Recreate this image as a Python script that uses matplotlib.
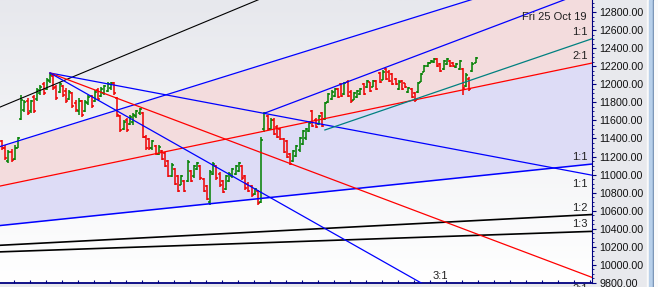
import numpy as np
import matplotlib
matplotlib.use('Agg')
import matplotlib.pyplot as plt
from matplotlib.collections import LineCollection
from matplotlib.colors import LinearSegmentedColormap
from matplotlib.patches import Rectangle
from matplotlib.ticker import MultipleLocator, FormatStrFormatter

plt.rcParams['font.family'] = ['Liberation Sans', 'DejaVu Sans']

# daily OHLC (bar index 0 = first visible bar)
opens = [11370, 11300, 11150, 11250, 11170, 11300, 11620, 11720, 11820, 11700,
         11860, 11840, 11900, 12000, 11950, 12040, 12090, 11970, 11910, 11980,
         11930, 11840, 11900, 11790, 11700, 11810, 11700, 11790, 11870, 11810,
         11940, 11870, 11900, 11930, 11960, 12010, 11850, 11650, 11500, 11600,
         11560, 11580, 11650, 11680, 11680, 11420, 11390, 11290, 11320, 11230,
         11260, 11240, 11150, 10990, 11060, 10980, 10890, 10930, 10930, 11040,
         10980, 11060, 11100, 10950, 10870, 10700, 11010, 11100, 11010, 10930,
         10840, 10930, 10980, 11010, 11040, 11100, 10980, 10900, 10870, 10780,
         10820, 10700, 11500, 11650, 11510, 11610, 11530, 11500, 11390, 11370,
         11230, 11150, 11210, 11270, 11340, 11400, 11480, 11700, 11610, 11560,
         11680, 11620, 11800, 11840, 11870, 11950, 12000, 11890, 12030, 11920,
         11830, 11860, 11890, 12000, 11970, 12020, 11975, 12040, 12120, 12050,
         12170, 12140, 12110, 12060, 11950, 12040, 12010, 11910, 11950, 11900,
         11910, 12030, 12140, 12200, 12240, 12245, 12280, 12220, 12165, 12220,
         12260, 12240, 12190, 12170, 12170, 11980, 12060, 12150, 12240]
highs = [11383, 11330, 11270, 11280, 11330, 11420, 11880, 11830, 11850, 11830,
         11880, 11960, 11990, 12020, 12070, 12125, 12100, 11990, 12020, 11990,
         11960, 11940, 11910, 11830, 11850, 11830, 11830, 11880, 11880, 11940,
         11960, 11970, 11990, 12020, 12020, 12025, 11860, 11660, 11600, 11630,
         11660, 11680, 11715, 11740, 11690, 11440, 11405, 11383, 11330, 11330,
         11270, 11250, 11162, 11128, 11073, 10996, 10996, 10940, 11162, 11051,
         11106, 11140, 11106, 10962, 10885, 11051, 11140, 11106, 11029, 10940,
         10996, 11029, 11073, 11106, 11140, 11106, 10996, 10918, 10885, 10852,
         10830, 11416, 11693, 11660, 11627, 11627, 11549, 11516, 11405, 11383,
         11239, 11272, 11328, 11416, 11494, 11516, 11582, 11715, 11627, 11660,
         11693, 11804, 11903, 11937, 11959, 11959, 12014, 12025, 12047, 11937,
         11914, 11937, 11959, 12014, 12047, 12025, 12047, 12047, 12136, 12158,
         12180, 12158, 12125, 12069, 12047, 12047, 12014, 11970, 11959, 11914,
         12025, 12125, 12213, 12247, 12269, 12291, 12291, 12235, 12269, 12291,
         12269, 12247, 12235, 12269, 12180, 12125, 12080, 12247, 12302]
lows = [11272, 11160, 11130, 11140, 11160, 11290, 11600, 11690, 11660, 11680,
        11680, 11820, 11880, 11880, 11940, 12010, 11940, 11830, 11900, 11860,
        11790, 11830, 11740, 11690, 11660, 11640, 11690, 11770, 11740, 11800,
        11830, 11860, 11880, 11910, 11940, 11880, 11640, 11470, 11490, 11470,
        11550, 11550, 11630, 11660, 11405, 11270, 11272, 11272, 11217, 11217,
        11162, 11084, 10973, 10973, 10885, 10807, 10885, 10807, 10918, 10918,
        10962, 11051, 10940, 10807, 10719, 10664, 10996, 10940, 10863, 10796,
        10830, 10918, 10962, 10996, 11029, 10940, 10830, 10807, 10752, 10774,
        10664, 10686, 11472, 11494, 11494, 11438, 11405, 11383, 11239, 11184,
        11106, 11140, 11195, 11250, 11328, 11383, 11472, 11527, 11516, 11549,
        11527, 11604, 11793, 11826, 11859, 11848, 11859, 11881, 11859, 11793,
        11826, 11848, 11881, 11881, 11959, 11914, 11970, 11937, 12014, 12047,
        12047, 12025, 11992, 11992, 11937, 11937, 11959, 11903, 11848, 11804,
        11903, 12025, 12136, 12191, 12235, 12235, 12191, 12136, 12158, 12213,
        12191, 12191, 12180, 12158, 11881, 11970, 11926, 12136, 12235]
closes = [11290, 11180, 11250, 11160, 11300, 11400, 11830, 11800, 11680, 11810,
          11700, 11940, 11970, 11900, 12050, 12100, 11960, 11850, 12000, 11880,
          11810, 11920, 11760, 11710, 11820, 11660, 11800, 11860, 11760, 11920,
          11840, 11950, 11980, 12000, 12010, 11900, 11660, 11490, 11580, 11490,
          11640, 11660, 11700, 11730, 11420, 11290, 11300, 11370, 11230, 11310,
          11175, 11100, 10990, 11110, 10900, 10820, 10980, 10820, 11140, 10930,
          11090, 11130, 10960, 10820, 10730, 11030, 11120, 10960, 10880, 10810,
          10980, 11010, 11060, 11090, 11130, 10960, 10850, 10820, 10770, 10840,
          10690, 11380, 11680, 11510, 11610, 11450, 11420, 11395, 11250, 11200,
          11120, 11260, 11320, 11400, 11480, 11500, 11570, 11540, 11530, 11650,
          11540, 11790, 11890, 11920, 11950, 11860, 11870, 12010, 11870, 11810,
          11900, 11930, 11950, 11890, 12040, 11930, 12040, 11950, 12030, 12140,
          12060, 12040, 12000, 12000, 12030, 11950, 11965, 11960, 11860, 11830,
          12010, 12110, 12200, 12240, 12260, 12280, 12200, 12150, 12255, 12280,
          12200, 12200, 12225, 12260, 11960, 12100, 11950, 12230, 12290]

# Gann fan anchored off-chart to the left: (bar, price), unit slope per bar
fan_origin = (-119.4, 9999)
fan_unit = 3.68
fan_ratios = [4, 3, 2, 1, 1 / 2, 1 / 3]
fan_colors = ['black', 'blue', 'red', 'blue', 'black', 'black']
fan_widths = [0.8, 0.9, 0.9, 1.1, 1.2, 1.2]

# fan down from the top
top_origin = (15, 12125)
top_unit = -6.68
top_ratios = [1, 2, 3]
top_colors = ['blue', 'red', 'blue']

# single rays: start (bar, price), slope per bar, colour
ray_starts = [(82.2, 11682), (100.9, 11494)]
ray_slopes = [13.4, 12.1]
ray_colors = ['blue', '#008080']

xlim = (-0.625, 184.375)
ylim = (9800, 12933)

W, H = 658, 287
fig = plt.figure(figsize=(W / 100, H / 100), dpi=100)
fig.patch.set_facecolor('#e8e9ed')
ax = fig.add_axes([0, 4 / H, 592 / W, 283 / H])

# background gradient
bg = LinearSegmentedColormap.from_list('bg', ['#e7e8ed', '#ffffff'])
ax.imshow(np.linspace(0, 1, 256).reshape(-1, 1), cmap=bg, aspect='auto',
          extent=[xlim[0], xlim[1], ylim[0], ylim[1]], origin='upper', zorder=0)


def fan_line(ratio, xs):
    return fan_origin[1] + fan_unit * ratio * (xs - fan_origin[0])


xs = np.linspace(xlim[0] - 1, xlim[1] + 1, 300)
ax.fill_between(xs, fan_line(2, xs), fan_line(3, xs), color='#f3dcdd', lw=0, zorder=1)
ax.fill_between(xs, fan_line(1, xs), fan_line(2, xs), color='#dddcf6', lw=0, zorder=1)

# OHLC bars
idx = np.arange(len(closes))
segs, cols = [], []
for i, o, h, l, c in zip(idx, opens, highs, lows, closes):
    col = '#008000' if c >= o else '#ee0000'
    segs += [[(i, l), (i, h)], [(i - 0.6, o), (i, o)], [(i, c), (i + 0.6, c)]]
    cols += [col] * 3
ax.add_collection(LineCollection(segs, colors=cols, linewidths=1.1, zorder=2))

# fan lines
for r, col, lw in zip(fan_ratios, fan_colors, fan_widths):
    ax.plot(xs, fan_line(r, xs), color=col, lw=lw, zorder=3)

xt = np.linspace(top_origin[0], xlim[1] + 1, 200)
for r, col in zip(top_ratios, top_colors):
    ax.plot(xt, top_origin[1] + top_unit * r * (xt - top_origin[0]), color=col, lw=0.9, zorder=3)

for (x0, y0), s, col in zip(ray_starts, ray_slopes, ray_colors):
    xr = np.linspace(x0, xlim[1] + 1, 100)
    ax.plot(xr, y0 + s * (xr - x0), color=col, lw=0.9, zorder=3)

ax.set_xlim(xlim)
ax.set_ylim(ylim)

# axes styling
navy = '#000080'
for side in ['left', 'top']:
    ax.spines[side].set_visible(False)
ax.spines['right'].set_color(navy)
ax.spines['bottom'].set_color(navy)
ax.spines['bottom'].set_linewidth(1.3)
ax.yaxis.tick_right()
ax.yaxis.set_major_locator(MultipleLocator(200))
ax.yaxis.set_minor_locator(MultipleLocator(50))
ax.yaxis.set_major_formatter(FormatStrFormatter('%.2f'))
ax.tick_params(axis='y', which='major', direction='out', length=3.2, color=navy,
               labelsize=7.7, labelcolor='#111111', pad=2.2)
ax.tick_params(axis='y', which='minor', direction='out', length=1.6, color=navy)
ax.set_xticks(np.arange(3.85, xlim[1], 5))
ax.tick_params(axis='x', direction='in', length=2.5, color=navy, labelbottom=False)

# right-hand labels
tc = '#202020'
xe = xlim[1]
ax.text(587 / 592, 1 - 17 / 283, 'Fri 25 Oct 19', transform=ax.transAxes,
        ha='right', va='center', fontsize=8, color=tc)
teal_end = ray_starts[1][1] + ray_slopes[1] * (xe - ray_starts[1][0])
labels = [('1:1', teal_end, 5), ('2:1', fan_line(2, xe), 5), ('1:1', fan_line(1, xe), 5),
          ('1:2', fan_line(1 / 2, xe), 5), ('1:3', fan_line(1 / 3, xe), 5),
          ('1:1', top_origin[1] + top_unit * (xe - top_origin[0]), -6),
          ('2:1', top_origin[1] + top_unit * 2 * (xe - top_origin[0]), -8.5)]
for txt, yv, dy in labels:
    ax.annotate(txt, (xe, yv), xytext=(-3, dy), textcoords='offset points',
                ha='right', va='center', fontsize=8, color=tc, annotation_clip=False)
x31 = top_origin[0] + (ylim[0] - top_origin[1]) / (top_unit * 3)
ax.annotate('3:1', (x31, ylim[0]), xytext=(14, 5), textcoords='offset points',
            ha='center', va='center', fontsize=8, color=tc, annotation_clip=False)

# right edge strip
fig.patches.append(Rectangle((647 / W, 0), 2 / W, 1, transform=fig.transFigure,
                             color='#fafafa', zorder=0))
fig.patches.append(Rectangle((649 / W, 0), 4 / W, 1, transform=fig.transFigure,
                             color='#b8d0ea', zorder=0))
fig.patches.append(Rectangle((653 / W, 0), 1 / W, 1, transform=fig.transFigure,
                             color='#5f7fa8', zorder=0))
fig.patches.append(Rectangle((654 / W, 0), 4 / W, 1, transform=fig.transFigure,
                             color='#fafafa', zorder=0))

fig.savefig('out.png', dpi=100, facecolor=fig.get_facecolor())
